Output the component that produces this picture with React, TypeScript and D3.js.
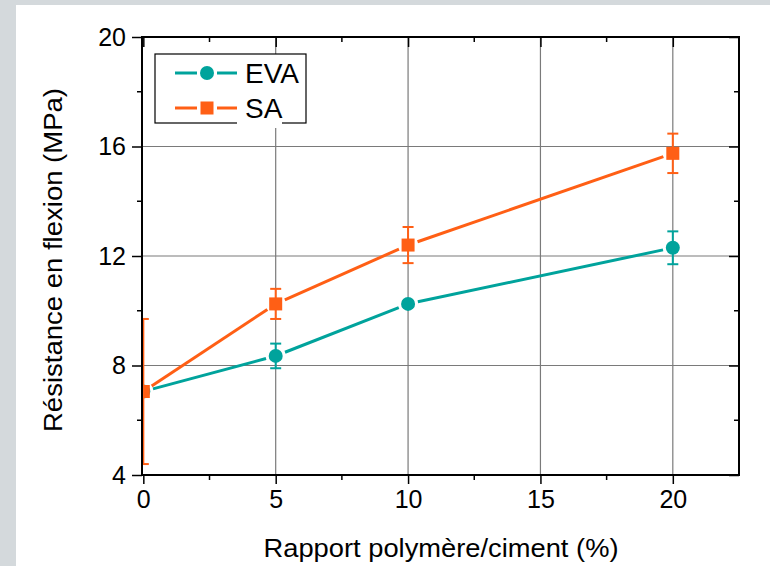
import React, { useEffect, useRef } from "react";
import * as d3 from "d3";

// polymer/cement ratio (%)
const ratios = [0, 5, 10, 20];
// flexural strength (MPa) and error
const evaValues = [7.05, 8.35, 10.25, 12.3];
const evaErrors = [0.15, 0.45, 0.1, 0.6];
const saValues = [7.05, 10.25, 12.4, 15.75];
const saErrors = [2.65, 0.55, 0.66, 0.72];

const xTicks = [0, 5, 10, 15, 20];
const yTicks = [4, 8, 12, 16, 20];

const width = 770;
const height = 566;
const margin = { top: 37, right: 31, bottom: 91, left: 142 };

const TEAL = "#00a39c";
const ORANGE = "#ff5f15";

const App = () => {
  const svgRef = useRef<SVGSVGElement>(null);

  useEffect(() => {
    const svg = d3.select(svgRef.current);
    svg.selectAll("*").remove();

    const x = d3
      .scaleLinear()
      .domain([-0.05, 22.5])
      .range([margin.left, width - margin.right]);
    const y = d3
      .scaleLinear()
      .domain([4, 20])
      .range([height - margin.bottom, margin.top]);

    const [x0, x1] = x.range();
    const [y0, y1] = y.range();

    // background
    svg.append("rect").attr("width", width).attr("height", height).attr("fill", "#d4d9dc");
    svg.append("rect").attr("x", 16).attr("y", 5).attr("width", width - 16).attr("height", height - 5).attr("fill", "#fff");

    svg
      .append("defs")
      .append("clipPath")
      .attr("id", "plot")
      .append("rect")
      .attr("x", x0)
      .attr("y", y1)
      .attr("width", x1 - x0)
      .attr("height", y0 - y1);

    // grid
    const grid = svg.append("g").attr("stroke", "#7a7a7a").attr("stroke-width", 1.2);
    grid
      .selectAll("line.v")
      .data(xTicks.slice(1))
      .join("line")
      .attr("x1", (d) => x(d))
      .attr("x2", (d) => x(d))
      .attr("y1", y0)
      .attr("y2", y1);
    grid
      .selectAll("line.h")
      .data(yTicks.slice(1, -1))
      .join("line")
      .attr("class", "h")
      .attr("x1", x0)
      .attr("x2", x1)
      .attr("y1", (d) => y(d))
      .attr("y2", (d) => y(d));

    const series = [
      { name: "EVA", values: evaValues, errors: evaErrors, color: TEAL, shape: "circle" },
      { name: "SA", values: saValues, errors: saErrors, color: ORANGE, shape: "square" },
    ];

    const gap = 10;
    const plot = svg.append("g").attr("clip-path", "url(#plot)");
    series.forEach((s) => {
      const pts = ratios.map((r, i) => [x(r), y(s.values[i])]);
      const g = plot.append("g");
      // line segments with gaps at markers
      for (let i = 0; i < pts.length - 1; i++) {
        const [ax, ay] = pts[i];
        const [bx, by] = pts[i + 1];
        const len = Math.hypot(bx - ax, by - ay);
        const ux = (bx - ax) / len;
        const uy = (by - ay) / len;
        g.append("line")
          .attr("x1", ax + ux * gap)
          .attr("y1", ay + uy * gap)
          .attr("x2", bx - ux * gap)
          .attr("y2", by - uy * gap)
          .attr("stroke", s.color)
          .attr("stroke-width", 3);
      }
      // error bars
      ratios.forEach((r, i) => {
        const cx = x(r);
        const top = y(s.values[i] + s.errors[i]);
        const bot = y(s.values[i] - s.errors[i]);
        g.append("line").attr("x1", cx).attr("x2", cx).attr("y1", top).attr("y2", bot)
          .attr("stroke", s.color).attr("stroke-width", 2);
        [top, bot].forEach((yy) =>
          g.append("line").attr("x1", cx - 5.5).attr("x2", cx + 5.5).attr("y1", yy).attr("y2", yy)
            .attr("stroke", s.color).attr("stroke-width", 2)
        );
      });
      // markers
      pts.forEach(([px, py]) => {
        if (s.shape === "circle") {
          g.append("circle").attr("cx", px).attr("cy", py).attr("r", 7).attr("fill", s.color);
        } else {
          g.append("rect").attr("x", px - 6.5).attr("y", py - 6.5).attr("width", 13).attr("height", 13).attr("fill", s.color);
        }
      });
    });

    // axes
    const font = "'Liberation Sans', Arial, sans-serif";
    const xMinor = d3.range(2.5, 22.5, 5);
    const yMinor = d3.range(6, 20, 4);

    const bottom = svg.append("g").attr("transform", `translate(0,${y0})`);
    bottom.call(d3.axisBottom(x).tickValues(xTicks).tickSize(9).tickSizeOuter(0).tickPadding(6));
    bottom.append("g").selectAll("line").data(xMinor).join("line")
      .attr("x1", (d) => x(d)).attr("x2", (d) => x(d)).attr("y1", 0).attr("y2", 5).attr("stroke", "#000").attr("stroke-width", 1.5);

    const left = svg.append("g").attr("transform", `translate(${x0},0)`);
    left.call(d3.axisLeft(y).tickValues(yTicks).tickSize(10).tickSizeOuter(0).tickPadding(6));
    left.append("g").selectAll("line").data(yMinor).join("line")
      .attr("y1", (d) => y(d)).attr("y2", (d) => y(d)).attr("x1", 0).attr("x2", -5).attr("stroke", "#000").attr("stroke-width", 1.5);

    const top = svg.append("g").attr("transform", `translate(0,${y1})`);
    top.call(d3.axisBottom(x).tickValues(xTicks).tickSize(10).tickSizeOuter(0).tickFormat(() => ""));
    top.append("g").selectAll("line").data(xMinor).join("line")
      .attr("x1", (d) => x(d)).attr("x2", (d) => x(d)).attr("y1", 0).attr("y2", 5).attr("stroke", "#000").attr("stroke-width", 1.5);

    const right = svg.append("g").attr("transform", `translate(${x1},0)`);
    right.call(d3.axisLeft(y).tickValues(yTicks).tickSize(-10).tickSizeOuter(0).tickFormat(() => ""));
    right.selectAll(".tick line").attr("x2", -10);
    right.append("g").selectAll("line").data(yMinor).join("line")
      .attr("y1", (d) => y(d)).attr("y2", (d) => y(d)).attr("x1", 0).attr("x2", -5).attr("stroke", "#000").attr("stroke-width", 1.5);

    [bottom, left, top, right].forEach((a) => {
      a.attr("font-family", font);
      a.selectAll(".domain").remove();
      a.selectAll(".tick line").attr("stroke", "#000").attr("stroke-width", 1.5);
      a.selectAll("text").attr("font-family", font).attr("font-size", 25).attr("fill", "#000");
    });
    // frame
    svg.append("rect").attr("x", x0).attr("y", y1).attr("width", x1 - x0).attr("height", y0 - y1)
      .attr("fill", "none").attr("stroke", "#000").attr("stroke-width", 2);

    // axis titles
    svg.append("text")
      .attr("x", 441)
      .attr("y", 557)
      .attr("text-anchor", "middle")
      .attr("font-family", font)
      .attr("font-size", 26)
      .attr("textLength", 355)
      .attr("lengthAdjust", "spacingAndGlyphs")
      .text("Rapport polymère/ciment (%)");
    svg.append("text")
      .attr("transform", `translate(62,${(y0 + y1) / 2 + 4}) rotate(-90)`)
      .attr("text-anchor", "middle")
      .attr("font-family", font)
      .attr("font-size", 26)
      .attr("textLength", 344)
      .attr("lengthAdjust", "spacingAndGlyphs")
      .text("Résistance en flexion (MPa)");

    // legend
    const lg = svg.append("g");
    lg.append("rect").attr("x", 155).attr("y", 54).attr("width", 151).attr("height", 69)
      .attr("fill", "#fff").attr("stroke", "#000").attr("stroke-width", 1.2);
    series.forEach((s, i) => {
      const ly = 73 + i * 35;
      if (s.name === "SA") {
        lg.append("rect").attr("x", 237).attr("y", ly - 16).attr("width", 45).attr("height", 36).attr("fill", "#fff");
      }
      lg.append("line").attr("x1", 175).attr("x2", 197).attr("y1", ly).attr("y2", ly).attr("stroke", s.color).attr("stroke-width", 3);
      lg.append("line").attr("x1", 217).attr("x2", 237).attr("y1", ly).attr("y2", ly).attr("stroke", s.color).attr("stroke-width", 3);
      if (s.shape === "circle") {
        lg.append("circle").attr("cx", 207).attr("cy", ly).attr("r", 7).attr("fill", s.color);
      } else {
        lg.append("rect").attr("x", 200.5).attr("y", ly - 6.5).attr("width", 13).attr("height", 13).attr("fill", s.color);
      }
      lg.append("text").attr("x", 245).attr("y", ly + 10).attr("font-family", font).attr("font-size", 28).text(s.name);
    });
  }, []);

  return (
    <svg ref={svgRef} width={width} height={height} style={{ position: "absolute", left: 0, top: 0 }}></svg>
  );
};

export default App;
